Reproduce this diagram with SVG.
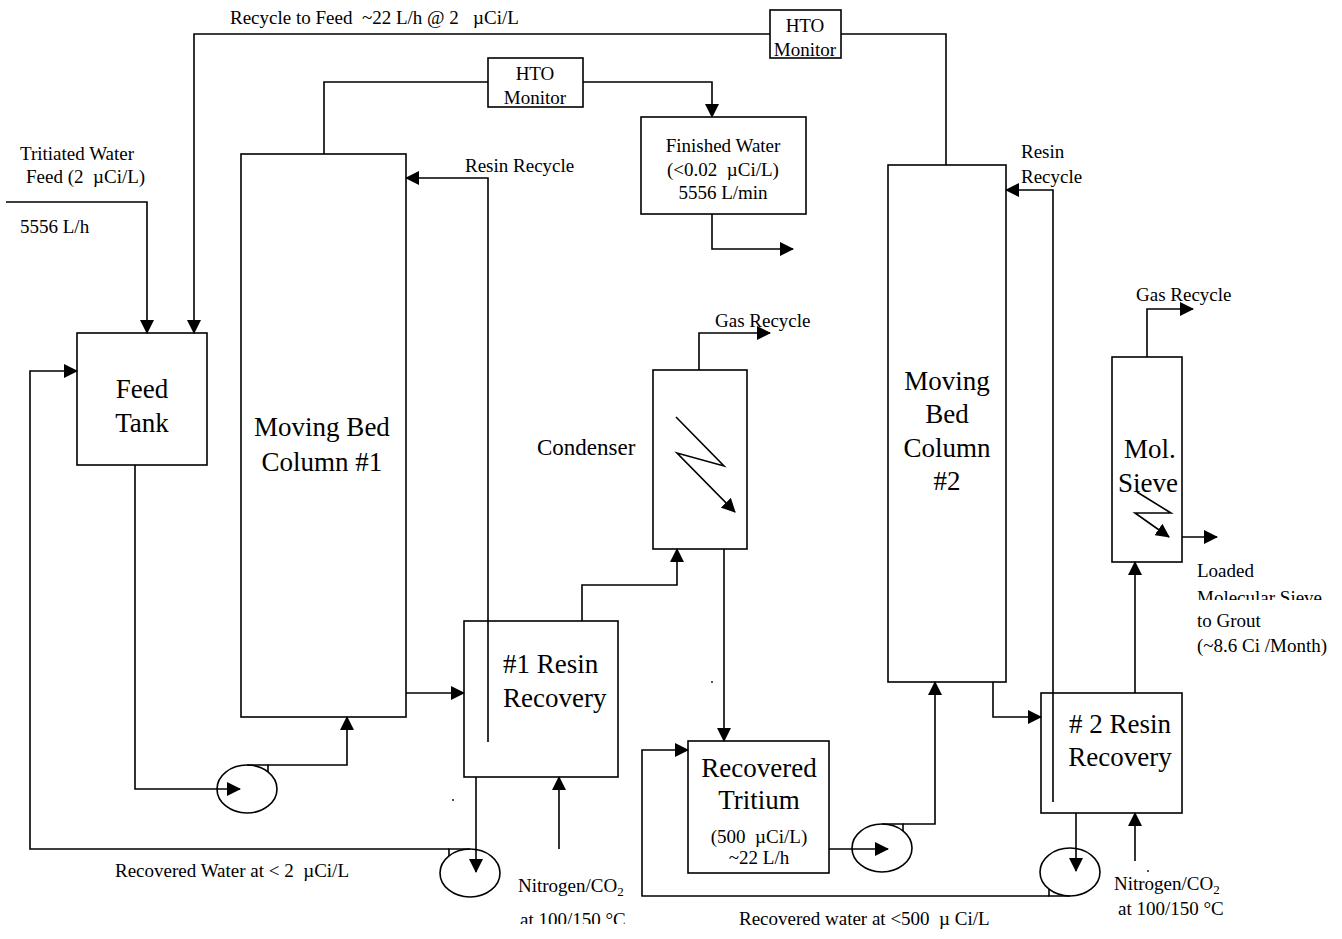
<svg xmlns="http://www.w3.org/2000/svg" width="1342" height="939" viewBox="0 0 1342 939">
<style>
.ln{fill:none;stroke:#000;stroke-width:1.6}
.box{fill:#fff;stroke:#000;stroke-width:1.6}
.pump{fill:#fff;stroke:#000;stroke-width:1.6}
text{font-family:"Liberation Serif","Times New Roman",serif;fill:#000}
.s{font-size:19px}
.b{font-size:27px}
.c{font-size:23px}
.m{text-anchor:middle}
</style>
<defs>
<marker id="ah" viewBox="0 0 14 14" refX="13" refY="7" markerWidth="14" markerHeight="14" markerUnits="userSpaceOnUse" orient="auto"><path d="M0,0 L14,7 L0,14 z" fill="#000"/></marker>
<clipPath id="clipMS"><rect x="1190" y="580" width="150" height="20"/></clipPath>
<clipPath id="clipN1"><rect x="500" y="900" width="150" height="24"/></clipPath>
</defs>

<g id="feed-label">
<text class="s" x="20" y="160">Tritiated Water</text>
<text class="s" x="26" y="183" xml:space="preserve">Feed (2  µCi/L)</text>
<text class="s" x="20" y="233">5556 L/h</text>
</g>
<text class="s" x="230" y="24" xml:space="preserve">Recycle to Feed  ~22 L/h @ 2   µCi/L</text>

<g id="feed-tank">
<rect class="box" x="77" y="333" width="130" height="132"/>
<text class="b m" x="142" y="398">Feed</text>
<text class="b m" x="142" y="432">Tank</text>
</g>

<g id="column1">
<rect class="box" x="241" y="154" width="165" height="563"/>
<text class="b m" x="322" y="436">Moving Bed</text>
<text class="b m" x="322" y="471">Column #1</text>
</g>

<g id="hto1">
<rect class="box" x="488" y="58" width="95" height="49"/>
<text class="s m" x="535" y="80">HTO</text>
<text class="s m" x="535" y="104">Monitor</text>
</g>

<g id="hto2">
<rect class="box" x="770" y="10" width="71" height="48"/>
<text class="s m" x="805" y="32">HTO</text>
<text class="s m" x="805" y="56">Monitor</text>
</g>

<g id="finished-water">
<rect class="box" x="641" y="117" width="165" height="97"/>
<text class="s m" x="723" y="152">Finished Water</text>
<text class="s m" x="723" y="176" xml:space="preserve">(&lt;0.02  µCi/L)</text>
<text class="s m" x="723" y="199">5556 L/min</text>
</g>

<g id="resin-recovery1">
<rect class="box" x="464" y="621" width="154" height="156"/>
<text class="b" x="503" y="673">#1 Resin</text>
<text class="b" x="503" y="707">Recovery</text>
</g>

<g id="condenser">
<rect class="box" x="653" y="370" width="94" height="179"/>
<polyline class="ln" points="676,417 724,466 677,453 735,512" marker-end="url(#ah)"/>
<text class="c" x="537" y="455">Condenser</text>
</g>

<g id="recovered-tritium">
<rect class="box" x="688" y="741" width="141" height="132"/>
<text class="b m" x="759" y="777">Recovered</text>
<text class="b m" x="759" y="809">Tritium</text>
<text class="s m" x="759" y="843" xml:space="preserve">(500  µCi/L)</text>
<text class="s m" x="759" y="864">~22 L/h</text>
</g>

<g id="column2">
<rect class="box" x="888" y="165" width="118" height="517"/>
<text class="b m" x="947" y="390">Moving</text>
<text class="b m" x="947" y="423">Bed</text>
<text class="b m" x="947" y="457">Column</text>
<text class="b m" x="947" y="490">#2</text>
</g>

<g id="resin-recovery2">
<rect class="box" x="1041" y="693" width="141" height="120"/>
<text class="b m" x="1120" y="733"># 2 Resin</text>
<text class="b m" x="1120" y="766">Recovery</text>
</g>

<g id="mol-sieve">
<rect class="box" x="1112" y="357" width="70" height="205"/>
<text class="b m" x="1150" y="458">Mol.</text>
<text class="b m" x="1148" y="492">Sieve</text>
<polyline class="ln" points="1137,492 1171,513 1135,513 1169,537" marker-end="url(#ah)"/>
</g>

<g id="pump1">
<ellipse class="pump" cx="247" cy="789" rx="30" ry="24"/>
<polyline class="ln" points="247,765 268,765 268,772"/>
</g>
<g id="pump4">
<ellipse class="pump" cx="470" cy="873" rx="30" ry="24"/>
<polyline class="ln" points="470,849 449,849 449,856"/>
</g>
<g id="pump2">
<ellipse class="pump" cx="882" cy="848" rx="30" ry="24"/>
<polyline class="ln" points="882,824 903,824 903,831"/>
</g>
<g id="pump3">
<ellipse class="pump" cx="1070" cy="872" rx="30" ry="24"/>
<polyline class="ln" points="1070,896 1049,896 1049,889"/>
</g>

<g id="connectors">
<polyline class="ln" points="6,202 147,202 147,333" marker-end="url(#ah)"/>
<polyline class="ln" points="946,165 946,34 841,34"/>
<polyline class="ln" points="770,34 194,34 194,333" marker-end="url(#ah)"/>
<polyline class="ln" points="324,154 324,82 488,82"/>
<polyline class="ln" points="583,82 712,82 712,117" marker-end="url(#ah)"/>
<polyline class="ln" points="712,214 712,249 793,249" marker-end="url(#ah)"/>
<polyline class="ln" points="488,742 488,178 406,178" marker-end="url(#ah)"/>
<polyline class="ln" points="406,693 464,693" marker-end="url(#ah)"/>
<polyline class="ln" points="582,621 582,585 677,585 677,549" marker-end="url(#ah)"/>
<polyline class="ln" points="699,370 699,333 770,333" marker-end="url(#ah)"/>
<polyline class="ln" points="724,549 724,741" marker-end="url(#ah)"/>
<polyline class="ln" points="135,465 135,789 240,789" marker-end="url(#ah)"/>
<polyline class="ln" points="268,765 347,765 347,717" marker-end="url(#ah)"/>
<polyline class="ln" points="476,777 476,872" marker-end="url(#ah)"/>
<polyline class="ln" points="449,849 30,849 30,371 77,371" marker-end="url(#ah)"/>
<polyline class="ln" points="559,849 559,777" marker-end="url(#ah)"/>
<polyline class="ln" points="829,849 888,849" marker-end="url(#ah)"/>
<polyline class="ln" points="903,824 935,824 935,682" marker-end="url(#ah)"/>
<polyline class="ln" points="993,682 993,717 1041,717" marker-end="url(#ah)"/>
<polyline class="ln" points="1053,802 1053,190 1006,190" marker-end="url(#ah)"/>
<polyline class="ln" points="1135,693 1135,562" marker-end="url(#ah)"/>
<polyline class="ln" points="1147,357 1147,309 1193,309" marker-end="url(#ah)"/>
<polyline class="ln" points="1182,537 1217,537" marker-end="url(#ah)"/>
<polyline class="ln" points="1076,813 1076,871" marker-end="url(#ah)"/>
<polyline class="ln" points="1049,896 642,896 642,750 688,750" marker-end="url(#ah)"/>
<polyline class="ln" points="1135,861 1135,813" marker-end="url(#ah)"/>
</g>

<g id="labels">
<text class="s" x="465" y="172">Resin Recycle</text>
<text class="s" x="1021" y="158">Resin</text>
<text class="s" x="1021" y="183">Recycle</text>
<text class="s" x="715" y="327">Gas Recycle</text>
<text class="s" x="1136" y="301">Gas Recycle</text>
<text class="s" x="1197" y="577">Loaded</text>
<text class="s" x="1197" y="604" clip-path="url(#clipMS)">Molecular Sieve</text>
<text class="s" x="1197" y="627">to Grout</text>
<text class="s" x="1197" y="652">(~8.6 Ci /Month)</text>
<text class="s" x="115" y="877" xml:space="preserve">Recovered Water at &lt; 2  µCi/L</text>
<text class="s" x="518" y="892">Nitrogen/CO<tspan font-size="13" dy="4">2</tspan></text>
<text class="s" x="520" y="926" clip-path="url(#clipN1)">at 100/150 °C</text>
<text class="s" x="739" y="925" xml:space="preserve">Recovered water at &lt;500  µ Ci/L</text>
<text class="s" x="1114" y="890">Nitrogen/CO<tspan font-size="13" dy="4">2</tspan></text>
<text class="s" x="1118" y="915">at 100/150 °C</text>
</g>
<g id="specks">
<circle cx="712" cy="682" r="0.9"/>
<circle cx="453" cy="800" r="0.9"/>
<circle cx="1148" cy="871" r="0.9"/>
</g>
</svg>
